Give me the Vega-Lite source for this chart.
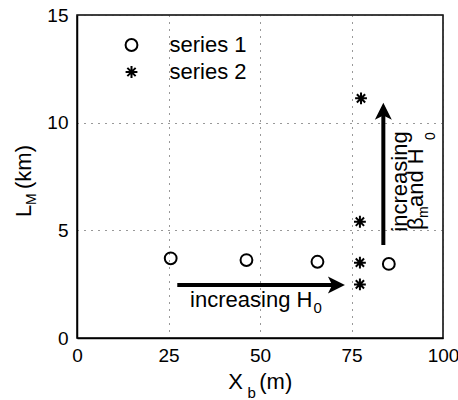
{
  "$schema": "https://vega.github.io/schema/vega-lite/v6.json",
  "width": 366,
  "height": 323,
  "autosize": {"type": "none"},
  "padding": {"left": 77, "top": 15, "right": 15, "bottom": 62},
  "config": {
    "font": "Liberation Sans",
    "view": {"stroke": "black", "strokeWidth": 1.5},
    "axis": {
      "domain": true,
      "domainColor": "black",
      "domainWidth": 1.5,
      "ticks": false,
      "grid": true,
      "gridColor": "#333333",
      "gridDash": [1, 6],
      "gridWidth": 1,
      "labelFont": "Liberation Sans",
      "labelFontSize": 19,
      "labelColor": "black",
      "labelFlush": false,
      "labelOverlap": false,
      "title": null
    }
  },
  "datasets": {
    "points": [
      {"series": "series 1", "Xb": 25.6, "LM": 3.70},
      {"series": "series 1", "Xb": 46.3, "LM": 3.62},
      {"series": "series 1", "Xb": 65.7, "LM": 3.54},
      {"series": "series 1", "Xb": 85.2, "LM": 3.44},
      {"series": "series 2", "Xb": 77.3, "LM": 2.49},
      {"series": "series 2", "Xb": 77.3, "LM": 3.50},
      {"series": "series 2", "Xb": 77.3, "LM": 5.40},
      {"series": "series 2", "Xb": 77.6, "LM": 11.13}
    ],
    "arrows": [
      {"dir": "right", "x": 27.4, "x2": 70.5, "y": 2.46, "y2": 2.46, "tx": 73.2, "ty": 2.46},
      {"dir": "up", "x": 83.7, "x2": 83.7, "y": 4.32, "y2": 10.4, "tx": 83.7, "ty": 10.93}
    ],
    "texts": [
      {"kind": "main-h", "label": "increasing H", "x": 30.9, "y": 1.45},
      {"kind": "sub-h", "label": "0", "x": 64.6, "y": 1.15},
      {"kind": "main-h", "label": "X", "x": 41.3, "y": -2.37},
      {"kind": "sub-h", "label": "b", "x": 46.6, "y": -2.8},
      {"kind": "main-h", "label": "(m)", "x": 49.8, "y": -2.37},
      {"kind": "main-v", "label": "increasing", "x": 90.1, "y": 4.94},
      {"kind": "main-v", "label": "β", "x": 94.6, "y": 5.02},
      {"kind": "sub-v", "label": "m", "x": 96.0, "y": 5.57},
      {"kind": "main-v", "label": "and H", "x": 94.6, "y": 6.08},
      {"kind": "sub-v", "label": "0", "x": 97.8, "y": 9.2},
      {"kind": "main-v", "label": "L", "x": -12.65, "y": 5.62},
      {"kind": "sub-v", "label": "M", "x": -11.28, "y": 6.18},
      {"kind": "main-v", "label": "(km)", "x": -12.65, "y": 6.92}
    ]
  },
  "layer": [
    {
      "data": {"name": "points"},
      "mark": {"type": "point", "filled": false, "color": "black", "opacity": 1, "strokeWidth": 2, "size": 140},
      "encoding": {
        "x": {"field": "Xb", "type": "quantitative", "scale": {"domain": [0, 100], "nice": false},
              "axis": {"values": [0, 25, 50, 75, 100], "labelPadding": 8}},
        "y": {"field": "LM", "type": "quantitative", "scale": {"domain": [0, 15], "nice": false},
              "axis": {"values": [0, 5, 10, 15], "labelPadding": 9}},
        "shape": {
          "field": "series",
          "type": "nominal",
          "scale": {"domain": ["series 1", "series 2"],
                    "range": ["circle", "M-1,0L1,0M0,-1L0,1M-0.7,-0.7L0.7,0.7M-0.7,0.7L0.7,-0.7"]},
          "legend": {
            "orient": "none",
            "legendX": 43.5,
            "legendY": 19,
            "title": null,
            "padding": 0,
            "labelFont": "Liberation Sans",
            "labelFontSize": 22,
            "labelColor": "black",
            "labelOffset": 27,
            "rowPadding": 5,
            "symbolSize": 140,
            "symbolStrokeColor": "black",
            "symbolFillColor": "transparent",
            "symbolStrokeWidth": 2,
            "symbolOpacity": 1
          }
        }
      }
    },
    {
      "data": {"name": "arrows"},
      "mark": {"type": "rule", "color": "black", "strokeWidth": 4, "strokeCap": "butt"},
      "encoding": {
        "x": {"field": "x", "type": "quantitative"},
        "x2": {"field": "x2"},
        "y": {"field": "y", "type": "quantitative"},
        "y2": {"field": "y2"}
      }
    },
    {
      "data": {"name": "arrows"},
      "transform": [{"filter": "datum.dir === 'right'"}],
      "mark": {"type": "point", "filled": true, "color": "black", "opacity": 1, "size": 289,
               "shape": "M0,0L-2,-1L-1.5,0L-2,1Z"},
      "encoding": {
        "x": {"field": "tx", "type": "quantitative"},
        "y": {"field": "ty", "type": "quantitative"}
      }
    },
    {
      "data": {"name": "arrows"},
      "transform": [{"filter": "datum.dir === 'up'"}],
      "mark": {"type": "point", "filled": true, "color": "black", "opacity": 1, "size": 289,
               "shape": "M0,0L-1,2L0,1.5L1,2Z"},
      "encoding": {
        "x": {"field": "tx", "type": "quantitative"},
        "y": {"field": "ty", "type": "quantitative"}
      }
    },
    {
      "data": {"name": "texts"},
      "transform": [{"filter": "datum.kind === 'main-h'"}],
      "mark": {"type": "text", "font": "Liberation Sans", "fontSize": 22, "align": "left", "baseline": "alphabetic", "color": "black"},
      "encoding": {
        "x": {"field": "x", "type": "quantitative"},
        "y": {"field": "y", "type": "quantitative"},
        "text": {"field": "label"}
      }
    },
    {
      "data": {"name": "texts"},
      "transform": [{"filter": "datum.kind === 'sub-h'"}],
      "mark": {"type": "text", "font": "Liberation Sans", "fontSize": 15, "align": "left", "baseline": "alphabetic", "color": "black"},
      "encoding": {
        "x": {"field": "x", "type": "quantitative"},
        "y": {"field": "y", "type": "quantitative"},
        "text": {"field": "label"}
      }
    },
    {
      "data": {"name": "texts"},
      "transform": [{"filter": "datum.kind === 'main-v'"}],
      "mark": {"type": "text", "font": "Liberation Sans", "fontSize": 22, "align": "left", "baseline": "alphabetic", "angle": 270, "color": "black"},
      "encoding": {
        "x": {"field": "x", "type": "quantitative"},
        "y": {"field": "y", "type": "quantitative"},
        "text": {"field": "label"}
      }
    },
    {
      "data": {"name": "texts"},
      "transform": [{"filter": "datum.kind === 'sub-v'"}],
      "mark": {"type": "text", "font": "Liberation Sans", "fontSize": 14, "align": "left", "baseline": "alphabetic", "angle": 270, "color": "black"},
      "encoding": {
        "x": {"field": "x", "type": "quantitative"},
        "y": {"field": "y", "type": "quantitative"},
        "text": {"field": "label"}
      }
    }
  ]
}
